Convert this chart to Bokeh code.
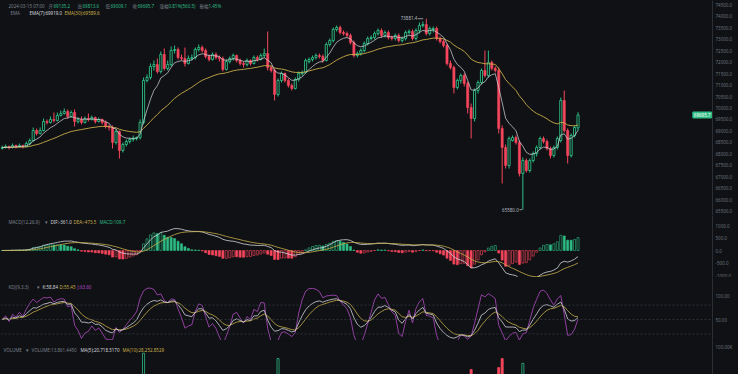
import numpy as np
from bokeh.plotting import figure
from bokeh.layouts import column
from bokeh.models import Range1d, FixedTicker, Label, Span, PrintfTickFormatter
from bokeh.embed import file_html
from bokeh.resources import INLINE

# ---------------- data (hourly candles) ----------------
opens = [
68239, 68283, 68326, 68283, 68370, 68326, 68370, 68326, 68456, 68587,
69022, 68891, 69022, 69413, 69370, 69500, 69456, 69674, 69761, 69848,
69630, 69804, 69413, 69500, 69370, 69543, 69500, 69587, 69413, 69500,
69370, 69196, 69152, 68500, 68978, 68152, 68413, 68543, 68630, 68674,
68717, 69370, 71196, 71326, 71804, 71891, 71587, 72326, 71717, 71891,
72500, 72543, 72196, 72152, 71935, 72152, 72196, 72543, 72630, 72500,
72239, 72109, 72326, 72196, 72152, 71674, 72022, 72152, 72283, 72065,
71935, 71891, 72065, 71935, 72196, 72109, 72283, 72370, 71761, 71630,
70587, 71196, 71500, 71196, 70978, 70848, 71239, 71500, 71543, 72022,
72109, 72196, 72283, 72239, 72065, 72761, 72935, 73413, 73500, 73283,
73239, 73152, 72848, 72283, 72370, 72500, 72804, 73022, 73065, 73239,
73370, 73152, 73283, 73065, 73022, 73152, 72935, 73022, 73283, 73326,
73022, 73370, 73587, 73630, 73239, 73413, 73457, 73022, 72891, 72717,
71935, 71761, 70891, 71196, 71413, 71065, 70022, 69543, 70761, 71109,
71630, 71413, 71978, 71717, 71630, 69109, 68283, 67500, 68587, 68717,
68500, 67152, 67717, 67282, 67717, 68022, 68283, 68674, 68543, 68239,
67935, 68283, 68587, 70326, 69022, 67935, 68804, 69135.2]
highs = [
68370, 68413, 68370, 68456, 68413, 68456, 68413, 68543, 68674, 69152,
69109, 69152, 69543, 69500, 69630, 69804, 69804, 69891, 69978, 69935,
69891, 69935, 69587, 69630, 69630, 69761, 69674, 69630, 69587, 69543,
69456, 69283, 69239, 69065, 69022, 68500, 68630, 68717, 68804, 68761,
69500, 71326, 71456, 71935, 72065, 72152, 72456, 72587, 72065, 72674,
72717, 72630, 72326, 72630, 72283, 72326, 72630, 72761, 72717, 72587,
72326, 72413, 72413, 72283, 72239, 72109, 72239, 72370, 72326, 72152,
72022, 72152, 72109, 72283, 72283, 72370, 72587, 73326, 71848, 71717,
71283, 71587, 71543, 71283, 71065, 71326, 71587, 71630, 72152, 72196,
72283, 72370, 72370, 72326, 72848, 73022, 73500, 73587, 73587, 73370,
73326, 73239, 72935, 72456, 72587, 72891, 73109, 73152, 73326, 73457,
73457, 73370, 73370, 73152, 73239, 73239, 73109, 73370, 73413, 73413,
73457, 73717, 73761, 73881.4, 73543, 73543, 73543, 73109, 72978, 72804,
72065, 71848, 71283, 71500, 71500, 71152, 70196, 70848, 71196, 71717,
72500, 72500, 72065, 71804, 71761, 69239, 68413, 68761, 68804, 68804,
68587, 67848, 67804, 67804, 68109, 68370, 68761, 68761, 68630, 68326,
68370, 68761, 70456, 70761, 69109, 68891, 69239, 69813.6]
lows = [
68196, 68239, 68196, 68239, 68239, 68283, 68239, 68283, 68370, 68543,
68804, 68848, 68978, 69283, 69326, 69370, 69413, 69630, 69717, 69543,
69587, 69196, 69326, 69283, 69326, 69413, 69456, 69326, 69370, 69283,
69109, 69022, 68239, 68413, 67804, 68065, 68326, 68456, 68543, 68587,
68630, 69283, 71109, 71239, 71630, 71500, 71500, 71630, 71630, 71804,
72370, 72109, 72065, 71804, 71891, 72065, 72109, 72456, 72413, 72152,
72022, 72065, 72109, 72022, 71587, 71630, 71935, 72065, 71978, 71848,
71761, 71804, 71848, 71891, 72022, 72065, 72196, 71630, 71543, 70326,
70500, 71109, 71109, 70891, 70761, 70804, 71152, 71413, 71500, 71935,
72022, 72109, 72152, 71978, 72022, 72674, 72848, 73326, 73196, 73152,
73065, 72761, 72196, 72196, 72283, 72413, 72717, 72935, 72978, 73152,
73065, 73065, 72978, 72935, 72935, 72848, 72848, 72935, 73196, 72935,
72935, 73239, 73500, 73152, 73152, 73283, 72935, 72804, 72630, 71848,
71674, 70630, 70804, 71065, 70935, 69761, 68674, 69413, 70630, 71022,
71326, 71326, 71630, 71543, 68891, 66717, 67369, 67369, 68543, 68413,
67022, 65580.0, 67195, 67195, 67630, 67891, 68196, 68456, 68152, 67804,
67848, 68196, 68500, 68935, 67587, 67848, 68717, 69009.1]
closes = [
68283, 68326, 68283, 68370, 68326, 68370, 68326, 68456, 68587, 69022,
68891, 69022, 69413, 69370, 69500, 69456, 69674, 69761, 69848, 69630,
69804, 69413, 69500, 69370, 69543, 69500, 69587, 69413, 69500, 69370,
69196, 69152, 68500, 68978, 68152, 68413, 68543, 68630, 68674, 68717,
69370, 71196, 71326, 71804, 71891, 71587, 72326, 71717, 71891, 72500,
72543, 72196, 72152, 71935, 72152, 72196, 72543, 72630, 72500, 72239,
72109, 72326, 72196, 72152, 71674, 72022, 72152, 72283, 72065, 71935,
71891, 72065, 71935, 72196, 72109, 72283, 72370, 71761, 71630, 70587,
71196, 71500, 71196, 70978, 70848, 71239, 71500, 71543, 72065, 72109,
72196, 72283, 72239, 72065, 72761, 72935, 73413, 73500, 73283, 73239,
73152, 72848, 72283, 72370, 72500, 72804, 73022, 73065, 73239, 73370,
73152, 73283, 73065, 73022, 73152, 72935, 73022, 73283, 73326, 73022,
73370, 73587, 73630, 73239, 73457, 73457, 73022, 72891, 72717, 71935,
71761, 70891, 71196, 71413, 71065, 70022, 69543, 70761, 71109, 71630,
71413, 71978, 71717, 71630, 69109, 68283, 67500, 68674, 68717, 68500,
67152, 67717, 67282, 67717, 68022, 68283, 68674, 68543, 68239, 67935,
68283, 68674, 70326, 69022, 67935, 68804, 69152, 69695.7]

# visible volume bars (the rest sit below the cropped bottom edge)
vol_idx = [41, 80, 136, 144, 145, 151]
vol_vals = [89000, 79000, 58500, 62000, 79000, 70000]

price_ticks = [65500, 66000, 66500, 67000, 67500, 68000, 68500, 69000, 69500, 70000,
               70500, 71000, 71500, 72000, 72500, 73000, 73500, 74000, 74500]
macd_ticks = [-1000, -500, 0, 500, 1000]
kdj_ticks = [50, 100]
kdj_levels = [20, 50, 80]
vol_ticks = [100000]

header1 = [("2024-03-15 07:00", 8, "g"), ("开", 48, "g"), ("69135.2", 53, "v"),
           ("高", 77, "g"), ("69813.6", 82, "v"), ("低", 105, "g"), ("69009.1", 110, "v"),
           ("收", 132, "g"), ("69695.7", 137, "v"), ("涨幅", 159, "g"),
           ("0.81%(560.5)", 168, "v"), ("振幅", 199, "g"), ("1.45%", 208, "v")]
header2 = [("EMA", 10, "g"), ("EMA(7):69919.0", 29, "w"), ("EMA(30):69589.6", 64, "y")]
header_macd = [("MACD(12,26,9)", 8, "g"), ("▾", 44, "g"), ("DIF:-361.0", 50, "w"),
               ("DEA:-473.5", 73, "y"), ("MACD:109.7", 99, "v")]
header_kdj = [("KDJ(9,3,3)", 8, "g"), ("▾", 36, "g"), ("K:58.84", 42, "w"),
              ("D:55.45", 59, "y"), ("J:63.60", 77, "m")]
header_vol = [("VOLUME", 3, "g"), ("▾", 25, "g"), ("VOLUME:13,861.4450", 31, "g"),
              ("MA(5):20,718.5170", 80, "w"), ("MA(10):28,252.8529", 122, "y")]

# ---------------- styling ----------------
BG = "#0f1114"
GREEN = "#2ebd85"
RED = "#f6465d"
GRAY = "#7c828c"
WHITE = "#d6d6de"
YELLOW = "#c9ae4c"
MAG = "#b24cc4"
AXIS = "#2a2e35"
TXT = {"g": GRAY, "v": GREEN, "w": WHITE, "y": YELLOW, "m": MAG}
LATIN = "Noto Sans"
CJK = "Noto Sans CJK SC"
FS = "4.5px"
FW = 712
RB = 26

o = np.array(opens, float); h = np.array(highs, float)
l = np.array(lows, float); c = np.array(closes, float)
N = len(c)
idx = np.arange(N)
up = c >= o


def ema(x, n):
    a = 2.0 / (n + 1)
    out = np.empty(len(x)); out[0] = x[0]
    for i in range(1, len(x)):
        out[i] = a * x[i] + (1 - a) * out[i - 1]
    return out


ema7 = ema(c, 7)
ema30 = ema(c, 30)
dif = ema(c, 12) - ema(c, 26)
dea = ema(dif, 9)
hist = 2 * (dif - dea)
K = np.empty(N); D = np.empty(N)
pk, pd_ = 50.0, 50.0
for i in range(N):
    lo = l[max(0, i - 8):i + 1].min(); hi = h[max(0, i - 8):i + 1].max()
    rsv = (c[i] - lo) / (hi - lo) * 100 if hi > lo else 50
    pk = 2 / 3 * pk + rsv / 3
    pd_ = 2 / 3 * pd_ + pk / 3
    K[i] = pk; D[i] = pd_
J = 3 * K - 2 * D

xr = Range1d(-0.49, 206.0)


def mkfig(fh, yr):
    p = figure(frame_width=FW, frame_height=fh, x_range=xr, y_range=yr,
               y_axis_location="right", x_axis_location=None, toolbar_location=None,
               output_backend="svg", background_fill_color=BG, border_fill_color=BG,
               min_border_left=0, min_border_right=RB, min_border_top=0, min_border_bottom=0,
               outline_line_color=None)
    p.grid.visible = False
    ax = p.yaxis[0]
    ax.axis_line_color = AXIS
    ax.major_tick_line_color = None
    ax.minor_tick_line_color = None
    ax.major_tick_out = 0
    ax.major_tick_in = 0
    ax.major_label_text_font_size = FS
    ax.major_label_text_color = "#6d737d"
    ax.major_label_text_font = LATIN
    ax.major_label_standoff = 3
    return p


def headers(p, items, yv):
    for t, px, col in items:
        font = CJK if any(ord(ch) > 0x2e80 for ch in t) else LATIN
        p.add_layout(Label(x=px, x_units="screen", y=yv, text=t, text_color=TXT[col],
                           text_font=font, text_font_size=FS, text_baseline="middle"))


def yat(rng, ref_h, ref_px):
    return rng.end - (ref_px / ref_h) * (rng.end - rng.start)


# ---------------- main candle panel ----------------
yr1 = Range1d(65326, 74674)
p1 = mkfig(215, yr1)
p1.yaxis.ticker = FixedTicker(ticks=price_ticks)
p1.yaxis.formatter = PrintfTickFormatter(format="%.1f")
cols = [GREEN if u else RED for u in up]
p1.segment(idx, h, idx, l, color=cols, line_width=1)
ui, di = idx[up], idx[~up]
p1.vbar(x=ui, width=0.62, top=np.maximum(o, c)[up], bottom=np.minimum(o, c)[up],
        fill_color=BG, line_color=GREEN, line_width=0.9)
p1.vbar(x=di, width=0.62, top=np.maximum(o, c)[~up], bottom=np.minimum(o, c)[~up],
        fill_color=RED, line_color=RED, line_width=0.6)
p1.line(idx, ema30, line_color=YELLOW, line_width=0.9)
p1.line(idx, ema7, line_color=WHITE, line_width=0.8, line_alpha=0.9)
headers(p1, header1, yat(yr1, 215, 5))
headers(p1, header2, yat(yr1, 215, 12))
hi_i = int(np.argmax(h)); lo_i = int(np.argmin(l))
p1.add_layout(Label(x=hi_i - 2.6, y=h[hi_i], text=f"{h[hi_i]:.1f}", text_align="right",
                    text_baseline="middle", text_color="#b5bac2", text_font=LATIN,
                    text_font_size=FS, y_offset=1))
p1.segment(hi_i - 2.4, h[hi_i], hi_i - 0.9, h[hi_i], color="#b5bac2", line_width=0.8)
p1.add_layout(Label(x=lo_i - 1.2, y=l[lo_i], text=f"{l[lo_i]:.1f}", text_align="right",
                    text_baseline="middle", text_color="#b5bac2", text_font=LATIN,
                    text_font_size=FS))
p1.segment(lo_i - 1.0, l[lo_i], lo_i - 0.2, l[lo_i], color="#b5bac2", line_width=0.8)
# last-price tag at the price-scale edge
p1.add_layout(Label(x=FW - 1, x_units="screen", y=c[-1], text=f"{c[-1]:.1f}",
                    text_align="right", text_baseline="middle", text_color="white",
                    text_font=LATIN, text_font_size=FS, background_fill_color=GREEN,
                    border_line_color=GREEN, padding=1))

# ---------------- MACD panel ----------------
yr2 = Range1d(-1080, 1400)
p2 = mkfig(62, yr2)
p2.yaxis.ticker = FixedTicker(ticks=macd_ticks)
p2.yaxis.formatter = PrintfTickFormatter(format="%.1f")
prev = np.concatenate([[0.0], hist[:-1]])
filled = hist < prev
hcol = np.where(hist >= 0, GREEN, RED)
hfill = [hc if f else BG for hc, f in zip(hcol, filled)]
p2.vbar(x=idx, width=0.6, top=hist, bottom=0, fill_color=hfill, line_color=list(hcol),
        line_width=0.6)
p2.line(idx, dif, line_color=WHITE, line_width=0.8)
p2.line(idx, dea, line_color=YELLOW, line_width=0.8)
headers(p2, header_macd, yat(yr2, 62, 6))

# ---------------- KDJ panel ----------------
yr3 = Range1d(6.25, 137.5)
p3 = mkfig(63, yr3)
p3.yaxis.ticker = FixedTicker(ticks=kdj_ticks)
p3.yaxis.formatter = PrintfTickFormatter(format="%.2f")
for lv in kdj_levels:
    p3.add_layout(Span(location=lv, dimension="width", line_color="#3b4048",
                       line_dash="2 2", line_width=0.7))
p3.line(idx, J, line_color=MAG, line_width=0.8)
p3.line(idx, D, line_color=YELLOW, line_width=0.8)
p3.line(idx, K, line_color=WHITE, line_width=0.8)
headers(p3, header_kdj, yat(yr3, 63, 9))

# ---------------- Volume panel ----------------
yr4 = Range1d(49000, 113000)
p4 = mkfig(34, yr4)
p4.yaxis.ticker = FixedTicker(ticks=vol_ticks)
p4.yaxis.major_label_overrides = {100000: "100.00K"}
vup = [bool(up[i]) for i in vol_idx]
p4.vbar(x=vol_idx, width=0.6, top=vol_vals, bottom=0,
        fill_color=[BG if u else RED for u in vup],
        line_color=[GREEN if u else RED for u in vup], line_width=0.8)
headers(p4, header_vol, yat(yr4, 34, 9))

layout = column(p1, p2, p3, p4, spacing=0)
html = file_html(layout, INLINE)
html = html.replace("<body>", '<body style="background:#0f1114">')
open("out.html", "w").write(html)
